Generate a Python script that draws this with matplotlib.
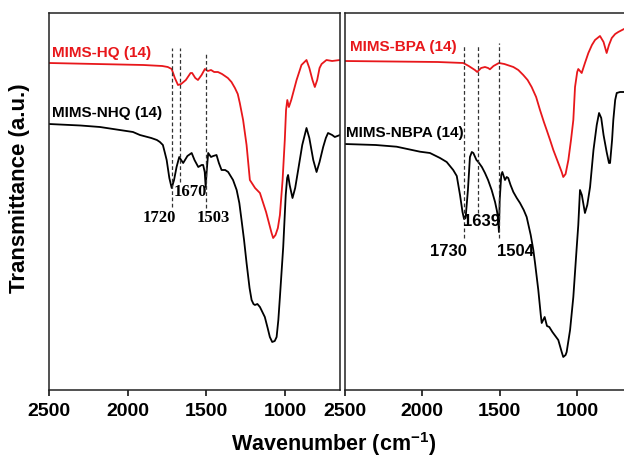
import matplotlib
matplotlib.use("Agg")
import matplotlib.pyplot as plt

plt.rcParams['font.family'] = ['Liberation Sans', 'DejaVu Sans']
plt.rcParams['mathtext.fontset'] = 'custom'
plt.rcParams['mathtext.rm'] = 'Liberation Sans:bold'
plt.rcParams['mathtext.bf'] = 'Liberation Sans:bold'
plt.rcParams['mathtext.default'] = 'bf'

# ---- FTIR spectra (wavenumber in cm^-1, transmittance in arbitrary units) ----
hq_wn = [2500, 2200, 1900, 1780, 1745, 1720, 1700, 1680, 1660, 1630, 1600, 1590,
         1570, 1553, 1530, 1509, 1490, 1470, 1450, 1426, 1400, 1363, 1340, 1318,
         1300, 1287, 1266, 1244, 1223, 1190, 1159, 1120, 1085, 1075, 1060, 1045,
         1032, 1015, 1001, 993, 985, 975, 960, 926, 895, 863, 845, 825, 810, 795,
         780, 767, 736, 700, 650]
hq_t = [327, 326, 325, 324, 323, 321, 312, 305, 306, 310, 317, 317,
        312, 310, 315, 321, 319, 320, 318, 318, 316, 312, 308, 302,
        296, 287, 270, 245, 210, 202, 197, 178, 157, 152, 155, 162,
        175, 210, 250, 280, 290, 283, 290, 310, 325, 330, 322, 310, 303, 310,
        322, 326, 330, 329, 330]

nhq_wn = [2500, 2300, 2176, 1966, 1922, 1850, 1814, 1795, 1776, 1763, 1752, 1735,
          1720, 1705, 1689, 1672, 1660, 1647, 1620, 1593, 1575, 1551, 1530, 1520,
          1510, 1504, 1497, 1488, 1470, 1456, 1435, 1420, 1403, 1380, 1361, 1330,
          1307, 1290, 1276, 1260, 1244, 1225, 1212, 1200, 1191, 1175, 1159, 1128,
          1110, 1096, 1081, 1065, 1053, 1042, 1032, 1011, 995, 986, 980, 970, 952,
          935, 916, 890, 863, 845, 820, 799, 780, 757, 740, 726, 700, 683, 650]
nhq_t = [266, 264.5, 263, 258, 255, 252, 250, 248, 245, 237, 230, 212,
         202, 210, 223, 233, 230, 227, 234, 237, 230, 223, 225, 225,
         218, 203, 220, 237, 233, 234, 235, 227, 220, 220, 218, 210,
         200, 187, 170, 150, 127, 102, 90, 86, 85, 86, 83, 73,
         62, 53, 48, 49, 53, 70, 93, 143, 195, 212, 215, 205, 192,
         202, 220, 245, 262, 252, 230, 218, 228, 243, 252, 257, 255, 253, 255]

bpa_wn = [2500, 2200, 1900, 1735, 1700, 1660, 1645, 1620, 1595, 1575, 1563, 1540,
          1505, 1470, 1412, 1380, 1348, 1320, 1294, 1265, 1240, 1215, 1197, 1175,
          1154, 1122, 1100, 1090, 1075, 1057, 1040, 1025, 1014, 1000, 993, 982,
          971, 950, 928, 905, 885, 853, 830, 810, 795, 777, 755, 735, 698, 650]
bpa_t = [329, 328.5, 328, 327, 324, 320, 318, 322, 323, 322, 320.7, 324,
         327, 326, 323, 320, 315, 310, 303, 293, 280, 268, 260, 250,
         240, 227, 218, 213, 216, 230, 250, 270, 303, 318, 321, 319,
         317, 327, 337, 345, 350, 354, 348, 337, 345, 352, 356, 358, 361, 362]

nbpa_wn = [2500, 2300, 2165, 2014, 1950, 1885, 1842, 1800, 1777, 1756, 1740, 1730,
           1720, 1705, 1692, 1680, 1670, 1650, 1638, 1615, 1595, 1575, 1552, 1530,
           1519, 1510, 1505, 1500, 1490, 1483, 1466, 1455, 1445, 1430, 1412, 1390,
           1369, 1345, 1326, 1300, 1283, 1272, 1251, 1235, 1229, 1210, 1195, 1180,
           1160, 1122, 1100, 1090, 1075, 1068, 1046, 1025, 1003, 993, 982, 970,
           950, 935, 917, 895, 874, 859, 845, 830, 810, 795, 788, 775, 767, 755,
           745, 724, 698, 650]
nbpa_t = [246, 245, 243.3, 238.3, 237, 232, 228, 220, 214, 195, 178, 171,
          172, 200, 233, 238, 237, 230, 228, 223, 217, 210, 200, 188,
          180, 172, 158, 190, 215, 218, 210, 213, 212, 205, 198, 192,
          187, 180, 173, 155, 140, 127, 100, 75, 67, 73, 64, 63,
          58, 50, 38, 33, 35, 38, 60, 93, 143, 165, 200, 195,
          177, 185, 203, 240, 265, 277, 272, 255, 238, 227, 227, 250, 270, 290,
          297, 298, 298, 298]

# marked band positions and the vertical extent of their guide lines
hq_marks = [1720, 1670, 1503]
hq_mark_top = [342, 342, 338]
hq_mark_bot = [183, 208, 182]
hq_mark_text = ['1720', '1670', '1503']
hq_text_wn = [1801, 1604, 1458]
hq_text_t = [172, 198, 172]

bpa_marks = [1730, 1639, 1504]
bpa_mark_top = [344, 344, 347]
bpa_mark_bot = [152, 177, 152]
bpa_mark_text = ['1730', '1639', '1504']
bpa_text_wn = [1832, 1616, 1401]
bpa_text_t = [138, 169, 138]

xticks = [2500, 2000, 1500, 1000]
RED = '#e8171b'
W, H = 624, 457

fig = plt.figure(figsize=(W / 100, H / 100), dpi=100)
ax1 = fig.add_axes([49 / W, 67 / H, 291 / W, 377 / H])
ax2 = fig.add_axes([344.7 / W, 67 / H, 286.75 / W, 377 / H])

for ax in (ax1, ax2):
    ax.set_xlim(2500, 650)
    ax.set_ylim(0, 377)
    ax.set_yticks([])
    ax.set_xticks(xticks)
    ax.set_xticklabels([str(t) for t in xticks], fontsize=14, fontweight='bold')
    ax.tick_params(axis='x', direction='out', length=4.5, width=1.1, pad=5)
    for s in ax.spines.values():
        s.set_linewidth(1.1)
        s.set_color('#222222')

# left panel: HQ
ax1.plot(hq_wn, hq_t, color=RED, lw=1.3)
ax1.plot(nhq_wn, nhq_t, color='black', lw=1.3)
for wn, top, bot in zip(hq_marks, hq_mark_top, hq_mark_bot):
    ax1.plot([wn, wn], [bot, top], color='#333333', lw=0.9, ls=(0, (3, 2)))
for s, wn, t in zip(hq_mark_text, hq_text_wn, hq_text_t):
    ax1.text(wn, t, s, ha='center', va='center', fontsize=12, fontweight='bold',
             family='Liberation Serif')
ax1.text(2481, 337, 'MIMS-HQ (14)', color=RED, fontsize=11, fontweight='bold',
         ha='left', va='center')
ax1.text(2481, 277, 'MIMS-NHQ (14)', color='black', fontsize=11, fontweight='bold',
         ha='left', va='center')

# right panel: BPA
ax2.plot(bpa_wn, bpa_t, color=RED, lw=1.3)
ax2.plot(nbpa_wn, nbpa_t, color='black', lw=1.3)
for wn, top, bot in zip(bpa_marks, bpa_mark_top, bpa_mark_bot):
    ax2.plot([wn, wn], [bot, top], color='#333333', lw=0.9, ls=(0, (3, 2)))
for s, wn, t in zip(bpa_mark_text, bpa_text_wn, bpa_text_t):
    ax2.text(wn, t, s, ha='center', va='center', fontsize=12, fontweight='bold')
ax2.text(2466, 343, 'MIMS-BPA (14)', color=RED, fontsize=11, fontweight='bold',
         ha='left', va='center')
ax2.text(2489, 257, 'MIMS-NBPA (14)', color='black', fontsize=11, fontweight='bold',
         ha='left', va='center')

fig.text(334 / W, (H - 451) / H, r'Wavenumber (cm$^{-1}$)', fontsize=15.5,
         fontweight='bold', ha='center', va='baseline')
fig.text(20 / W, 1 - 188 / H, 'Transmittance (a.u.)', fontsize=16,
         fontweight='bold', ha='center', va='center', rotation=90)

fig.savefig('out.png', dpi=100)
